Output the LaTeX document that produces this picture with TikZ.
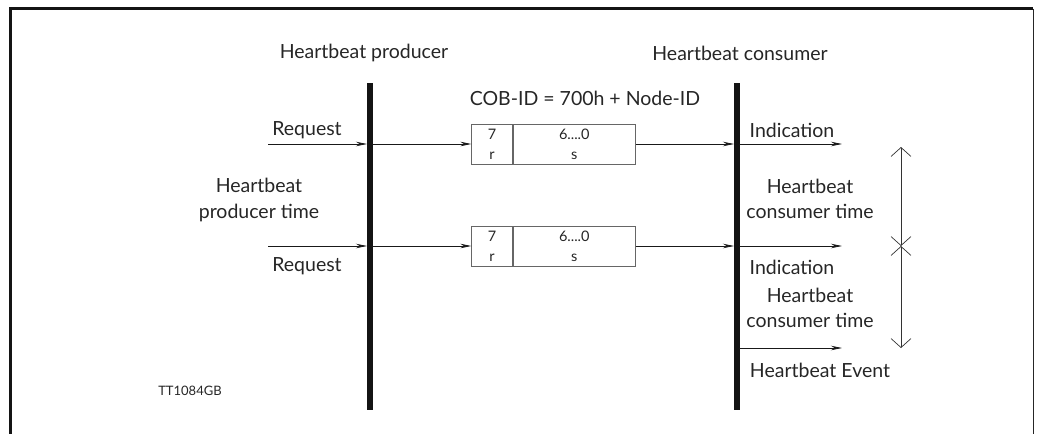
\documentclass[tikz,border=0pt]{standalone}
\usepackage{fontspec}
\setmainfont{Lato}
\usetikzlibrary{arrows.meta}
\begin{document}
\begin{tikzpicture}[x=1pt,y=-1pt,
  lbl/.style={font=\fontsize{19.5}{25.5}\selectfont, inner sep=0pt, text=black!85, align=center},
  small/.style={font=\fontsize{13}{15}\selectfont, inner sep=0pt, text=black!85},
  boxtxt/.style={font=\fontsize{14.5}{20}\selectfont, text=black!85, align=center},
  cell/.style={draw=black!60, line width=0.8pt, minimum height=40pt, inner sep=0pt, boxtxt},
  bar/.style={line width=5.5pt, black!92},
  sig/.style={line width=0.8pt, black!90, -{Stealth[length=11pt,width=4.5pt]}},
  span/.style={line width=0.7pt, black!80, {Straight Barb[length=9pt,width=20pt]}-{Straight Barb[length=9pt,width=20pt]}}
]
\useasboundingbox (0,0) rectangle (1037,434);
% frame
\draw[line width=3pt, black!92] (10,434) -- (10,8.5) -- (1033,8.5);
\draw[line width=1pt, black!85] (1033,8.5) -- (1033,434);

% headings
\node[lbl] (hp) at (364,53) {Heartbeat producer};
\node[lbl] (hc) at (740,53) {Heartbeat consumer};
\node[lbl] (cob) at (585,98) {COB-ID = 700h + Node-ID};

% bars
\coordinate (pt) at (370,83);
\coordinate (pb) at (370,410);
\coordinate (ct) at (737,83);
\coordinate (cb) at (737,410);
\draw[bar] (pt) -- (pb);
\draw[bar] (ct) -- (cb);

% message boxes
\node[cell, minimum width=40.5pt] (b1l) at (492,144) {7\\r};
\node[cell, minimum width=122.5pt, anchor=west] (b1r) at (b1l.east) {6....0\\s};
\node[cell, minimum width=40.5pt] (b2l) at (492,246) {7\\r};
\node[cell, minimum width=122.5pt, anchor=west] (b2r) at (b2l.east) {6....0\\s};

% first message
\coordinate (r1) at (268,144);
\coordinate (p1) at (367,144);
\coordinate (p1r) at (372,144);
\coordinate (c1) at (734,144);
\coordinate (c1r) at (739,144);
\coordinate (i1) at (842,144);
\draw[sig] (r1) -- (p1);
\draw[sig] (p1r) -- (b1l.west);
\draw[sig] (b1r.east) -- (c1);
\draw[sig] (c1r) -- (i1);

% second message
\coordinate (r2) at (268,246);
\coordinate (p2) at (367,246);
\coordinate (p2r) at (372,246);
\coordinate (c2) at (734,246);
\coordinate (c2r) at (739,246);
\coordinate (i2) at (842,246);
\draw[sig] (r2) -- (p2);
\draw[sig] (p2r) -- (b2l.west);
\draw[sig] (b2r.east) -- (c2);
\draw[sig] (c2r) -- (i2);

% heartbeat event
\coordinate (e0) at (739,348);
\coordinate (e1) at (842,348);
\draw[sig] (e0) -- (e1);

% labels
\node[lbl] (req1) at (307,130) {Request};
\node[lbl] (req2) at (307,266) {Request};
\node[lbl] (hpt) at (259,200) {Heartbeat\\producer time};
\node[lbl] (ind1) at (792,130) {Indication};
\node[lbl] (ind2) at (792,267) {Indication};
\node[lbl] (hct1) at (810,199) {Heartbeat\\consumer time};
\node[lbl] (hct2) at (810,308) {Heartbeat\\consumer time};
\node[lbl] (hev) at (820,370) {Heartbeat Event};
\node[small] (tt) at (190,391) {TT1084GB};

% time spans
\coordinate (t0) at (901,147);
\coordinate (t1) at (901,246);
\coordinate (t2) at (901,348);
\draw[span] (t0) -- (t1);
\draw[span] (t1) -- (t2);
\end{tikzpicture}
\end{document}
